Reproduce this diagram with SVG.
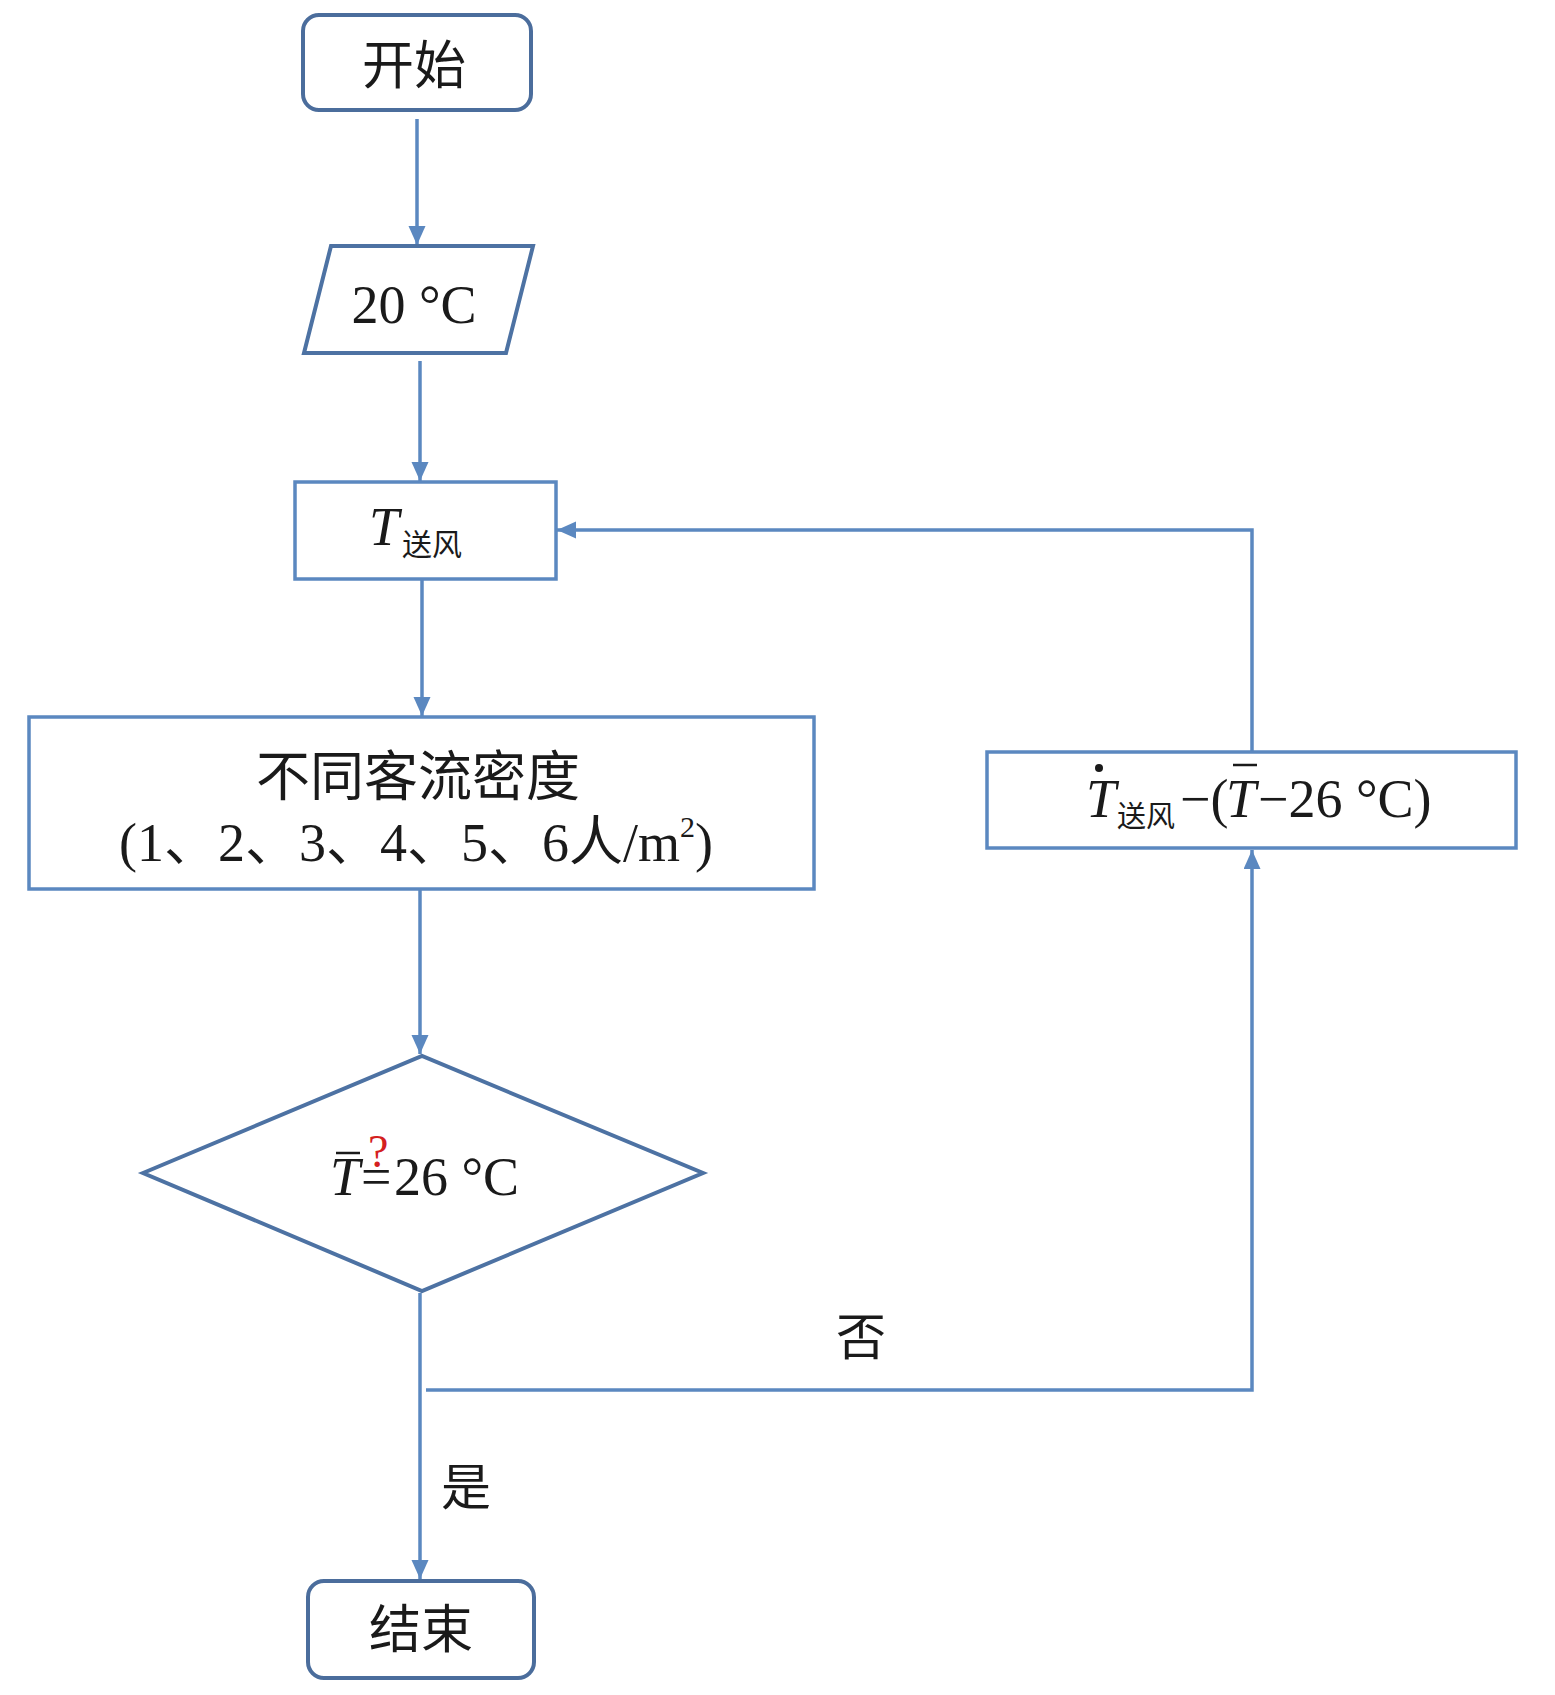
<svg xmlns="http://www.w3.org/2000/svg" width="1555" height="1695" viewBox="0 0 1555 1695">
<style>
.term{fill:#fff;stroke:#4b6d9c;stroke-width:4}
.io{fill:#fff;stroke:#4d72a3;stroke-width:4}
.proc{fill:#fff;stroke:#5b88c0;stroke-width:3.5}
.edge{fill:none;stroke:#5b88c0;stroke-width:3.5}
.t{font-family:"Liberation Serif","Noto Sans CJK SC",serif;fill:#1a1a1a}
.c{font-family:"Liberation Serif","Noto Sans CJK SC",serif;fill:#1a1a1a}
</style>
<defs>
<marker id="ah" markerUnits="userSpaceOnUse" markerWidth="20" markerHeight="18" refX="19" refY="8.5" orient="auto">
<path d="M0,0 L19,8.5 L0,17 z" fill="#5b88c0"/>
</marker>
</defs>
<rect width="1555" height="1695" fill="#fff"/>
<g id="connectors">
<line class="edge" x1="417" y1="119" x2="417" y2="245" marker-end="url(#ah)"/>
<line class="edge" x1="420" y1="361" x2="420" y2="481" marker-end="url(#ah)"/>
<line class="edge" x1="422" y1="580" x2="422" y2="716" marker-end="url(#ah)"/>
<line class="edge" x1="420" y1="889" x2="420" y2="1054" marker-end="url(#ah)"/>
<line class="edge" x1="420" y1="1293" x2="420" y2="1579" marker-end="url(#ah)"/>
<polyline class="edge" points="426,1390 1252,1390 1252,850" marker-end="url(#ah)"/>
<polyline class="edge" points="1252,752 1252,530 557,530" marker-end="url(#ah)"/>
</g>
<g id="start">
<rect class="term" x="303" y="15" width="228" height="95" rx="16"/>
<text class="c" x="414" y="84" font-size="52" text-anchor="middle">开始</text>
</g>
<g id="input">
<polygon class="io" points="331,246 533,246 506,353 304,353"/>
<text class="t" x="414" y="323" font-size="54" text-anchor="middle">20 °C</text>
</g>
<g id="tsupply">
<rect class="proc" x="295" y="482" width="261" height="97"/>
<text class="t" x="369" y="545" font-size="54" font-style="italic">T</text>
<text class="c" x="402" y="555" font-size="30">送风</text>
</g>
<g id="density">
<rect class="proc" x="29" y="717" width="785" height="172"/>
<text class="c" x="418" y="796" font-size="54" text-anchor="middle">不同客流密度</text>
<text class="t" x="416" y="861" font-size="54" text-anchor="middle">(1、2、3、4、5、6人/m<tspan font-size="30" dy="-24">2</tspan><tspan dy="24">)</tspan></text>
</g>
<g id="decision">
<polygon class="io" points="143,1173 422,1056 703,1173 422,1291"/>
<text class="t" x="330" y="1195" font-size="54" font-style="italic">T</text>
<line x1="336" y1="1153" x2="360" y2="1153" stroke="#1a1a1a" stroke-width="2.5"/>
<text class="t" x="361" y="1195" font-size="54">=</text>
<text class="t" x="368" y="1167" font-size="46" fill="#d42020" style="fill:#d42020">?</text>
<text class="t" x="394" y="1195" font-size="54">26 °C</text>
</g>
<g id="adjust">
<rect class="proc" x="987" y="752" width="529" height="96"/>
<circle cx="1099" cy="768" r="4" fill="#1a1a1a"/>
<text class="t" x="1086" y="817" font-size="54" font-style="italic">T</text>
<text class="c" x="1117" y="827" font-size="29">送风</text>
<text class="t" x="1180" y="817" font-size="54">−(</text>
<text class="t" x="1226" y="817" font-size="54" font-style="italic">T</text>
<line x1="1233" y1="765" x2="1257" y2="765" stroke="#1a1a1a" stroke-width="2.5"/>
<text class="t" x="1258" y="817" font-size="54">−26 °C)</text>
</g>
<g id="labels">
<text class="c" x="861" y="1355" font-size="50" text-anchor="middle">否</text>
<text class="c" x="466" y="1505" font-size="50" text-anchor="middle">是</text>
</g>
<g id="end">
<rect class="term" x="308" y="1581" width="226" height="97" rx="16"/>
<text class="c" x="421" y="1648" font-size="52" text-anchor="middle">结束</text>
</g>
</svg>
